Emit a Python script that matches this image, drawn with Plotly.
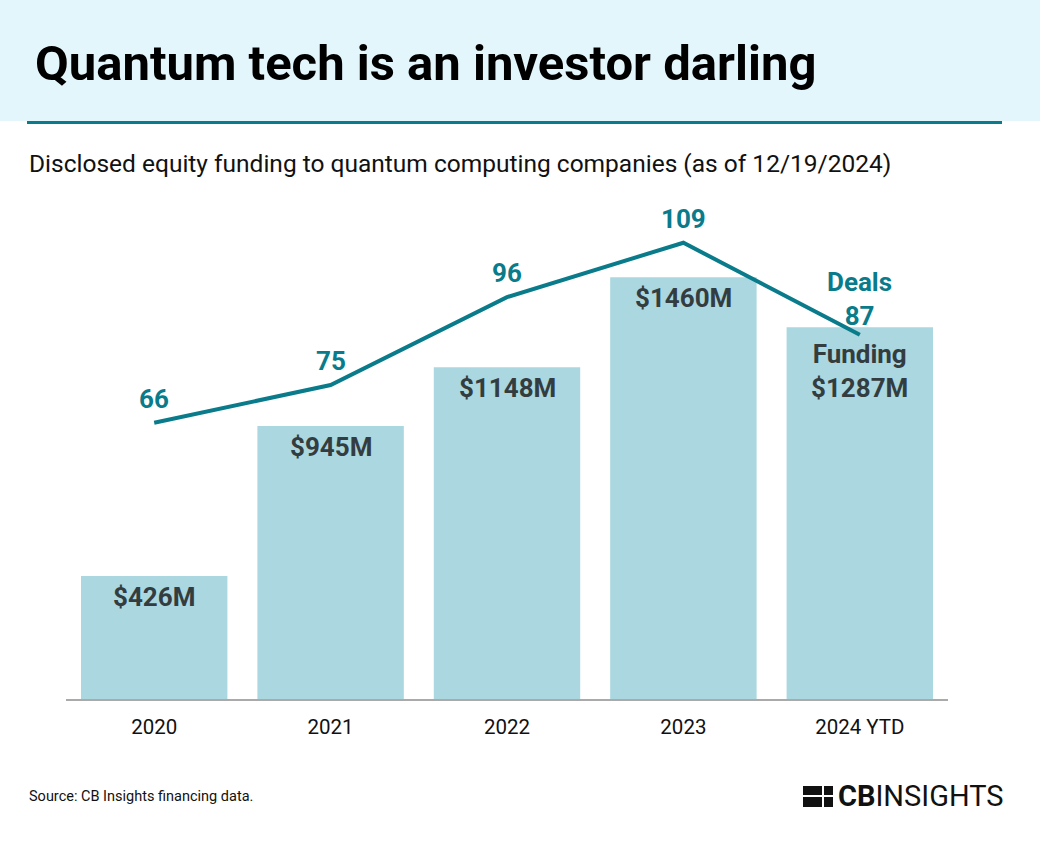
import plotly.graph_objects as go

years = ["2020", "2021", "2022", "2023", "2024 YTD"]
funding = [426, 945, 1148, 1460, 1287]
deals = [66, 75, 96, 109, 87]
funding_labels = ["$426M", "$945M", "$1148M", "$1460M", "Funding<br>$1287M"]
deal_labels = ["66", "75", "96", "109", "Deals<br>87"]

W, H = 1040, 841
L, R, T, B = 66, 92, 200, 142
PW, PH = W - L - R, H - T - B


def px(x):
    return (x - L) / PW


def py(y):
    return (H - B - y) / PH


TEAL = "#0a7b8a"
BAR = "#abd7e0"
DARK = "#333d40"
FONT = "Roboto"

fig = go.Figure()
fig.add_trace(go.Bar(x=years, y=funding, marker=dict(color=BAR, line=dict(width=0)),
                     hoverinfo="skip", yaxis="y"))
fig.add_trace(go.Scatter(x=years, y=deals, mode="lines", line=dict(color=TEAL, width=4),
                         yaxis="y2", hoverinfo="skip"))

ann = []
for i, (v, lab) in enumerate(zip(funding, funding_labels)):
    shift = -44 if "<br>" in lab else -21
    ann.append(dict(x=i, y=v, xref="x", yref="y", text=f"<b>{lab}</b>", showarrow=False,
                    yanchor="middle", yshift=shift,
                    font=dict(family=FONT, size=26, color=DARK)))
for i, (v, lab) in enumerate(zip(deals, deal_labels)):
    shift = 36 if "<br>" in lab else 24
    ann.append(dict(x=i, y=v, xref="x", yref="y2", text=f"<b>{lab}</b>", showarrow=False,
                    yanchor="middle", yshift=shift,
                    font=dict(family=FONT, size=26, color=TEAL)))

ann.append(dict(x=px(33), y=py(63), xref="paper", yref="paper", xanchor="left", yanchor="middle",
                text="<b>Quantum tech is an investor darling</b>", showarrow=False,
                font=dict(family=FONT, size=49, color="#000000")))
ann.append(dict(x=px(27), y=py(163), xref="paper", yref="paper", xanchor="left", yanchor="middle",
                text="Disclosed equity funding to quantum computing companies (as of 12/19/2024)",
                showarrow=False, font=dict(family=FONT, size=24.5, color="#111111")))
ann.append(dict(x=px(27), y=py(796), xref="paper", yref="paper", xanchor="left", yanchor="middle",
                text="Source: CB Insights financing data.", showarrow=False,
                font=dict(family=FONT, size=14.5, color="#111111")))
ann.append(dict(x=px(836), y=py(796), xref="paper", yref="paper", xanchor="left", yanchor="middle",
                text="<b>CB</b>INSIGHTS", showarrow=False,
                font=dict(family=FONT, size=29, color="#111111")))

shapes = [
    dict(type="rect", xref="paper", yref="paper", x0=px(0), x1=px(W), y0=py(121), y1=py(0),
         fillcolor="#e3f6fb", line=dict(width=0), layer="below"),
    dict(type="line", xref="paper", yref="paper", x0=px(27), x1=px(1002), y0=py(122.5), y1=py(122.5),
         line=dict(color=TEAL, width=3)),
    dict(type="rect", xref="paper", yref="paper", x0=px(803), x1=px(833), y0=py(807), y1=py(786),
         fillcolor="#111111", line=dict(width=0)),
    dict(type="line", xref="paper", yref="paper", x0=px(823), x1=px(823), y0=py(807), y1=py(786),
         line=dict(color="white", width=2)),
    dict(type="line", xref="paper", yref="paper", x0=px(803), x1=px(833), y0=py(796), y1=py(796),
         line=dict(color="white", width=2)),
]

fig.update_layout(
    width=W, height=H, autosize=False,
    margin=dict(l=L, r=R, t=T, b=B, pad=0),
    paper_bgcolor="white", plot_bgcolor="white",
    showlegend=False, bargap=0.17,
    xaxis=dict(type="category", range=[-0.5, len(years) - 0.5], showline=True,
               linecolor="#aaaaaa", linewidth=2,
               showgrid=False, zeroline=False, ticks="", ticklabelstandoff=8,
               tickfont=dict(family=FONT, size=20.5, color="#111111"), fixedrange=True),
    yaxis=dict(range=[0, PH / 0.2889], visible=False, fixedrange=True),
    yaxis2=dict(range=[0, PH / 4.186], visible=False, overlaying="y", fixedrange=True),
    annotations=ann, shapes=shapes,
)

fig.write_html("out.html", config={"displayModeBar": False},
               post_script="document.body.style.margin='0';document.body.style.padding='0';")
